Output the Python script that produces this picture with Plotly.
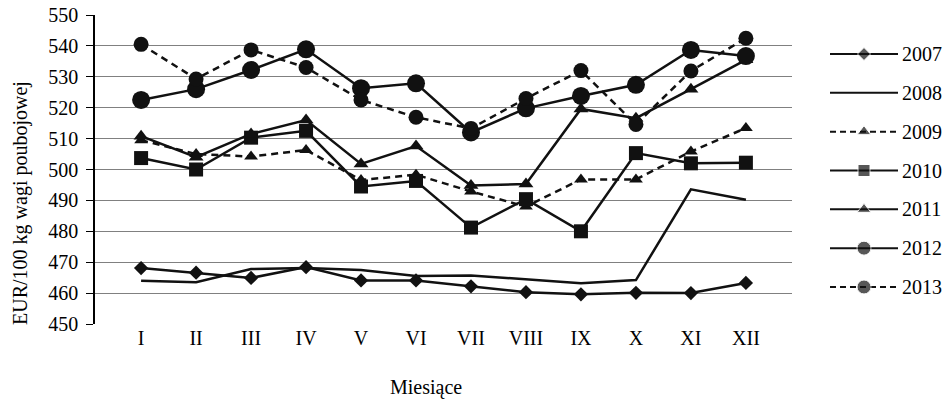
import plotly.graph_objects as go

months = ["I", "II", "III", "IV", "V", "VI", "VII", "VIII", "IX", "X", "XI", "XII"]

y2007 = [468.1, 466.6, 464.9, 468.4, 464.1, 464.1, 462.2, 460.3, 459.6, 460.1, 460.0, 463.3]
y2008 = [464.0, 463.5, 467.8, 468.1, 467.5, 465.5, 465.7, 464.4, 463.2, 464.2, 493.6, 490.2]
y2009 = [509.5, 505.0, 504.2, 506.3, 496.6, 498.3, 492.9, 488.0, 496.8, 496.8, 505.8, 513.4]
y2010 = [503.7, 500.0, 510.3, 512.5, 494.5, 496.3, 481.2, 490.4, 480.0, 505.3, 502.0, 502.2]
y2011 = [510.8, 504.0, 511.5, 516.0, 501.8, 507.6, 494.8, 495.3, 519.6, 516.6, 526.0, 535.5]
y2012 = [522.5, 526.0, 532.2, 538.9, 526.3, 527.9, 512.0, 519.8, 523.8, 527.4, 538.7, 536.7]
y2013 = [540.5, 529.3, 538.7, 533.0, 522.5, 516.9, 513.3, 523.0, 532.0, 514.6, 531.9, 542.5]

ink = "#111111"
font_family = "Liberation Serif, Times New Roman, serif"

# name, values, marker symbol, marker size (chart, legend), dash
series = [
    ("2007", y2007, "diamond", 11, 10, "solid"),
    ("2008", y2008, None, 0, 0, "solid"),
    ("2009", y2009, "triangle-up", 12, 12, "7px,5px"),
    ("2010", y2010, "square", 14, 12, "solid"),
    ("2011", y2011, "triangle-up", 13, 12, "solid"),
    ("2012", y2012, "circle", 18, 14, "solid"),
    ("2013", y2013, "circle", 15, 14, "7px,5px"),
]
names = [s[0] for s in series]

fig = go.Figure()
for name, vals, sym, size, lsize, dash in series:
    mode = "lines+markers" if sym else "lines"
    fig.add_trace(go.Scatter(
        x=months, y=vals, name=name, mode=mode, showlegend=False,
        line=dict(color=ink, width=2.5, dash=dash),
        marker=dict(symbol=sym or "circle", size=size, color=ink),
    ))

# legend drawn as a small side panel (long key lines like the original)
for name, vals, sym, size, lsize, dash in series:
    mode = "lines+markers" if sym else "lines"
    fig.add_trace(go.Scatter(
        x=[0, 0.5, 1], y=[name] * 3, mode=mode, showlegend=False,
        xaxis="x2", yaxis="y2", hoverinfo="skip",
        line=dict(color=ink, width=2, dash="6px,4px" if dash != "solid" else "solid"),
        marker=dict(symbol=sym or "circle", size=[0, lsize, 0], color=ink),
    ))

# browser body adds 8px offset; figure kept inside the 952x400 window
fig.update_layout(
    width=944, height=392,
    margin=dict(l=87, r=54, t=7, b=76, autoexpand=False),
    plot_bgcolor="white", paper_bgcolor="white",
    font=dict(family=font_family, size=20, color="black"),
    showlegend=False,
    xaxis=dict(domain=[0, 697 / 803]),
    xaxis2=dict(domain=[735 / 803, 1], range=[0, 1], visible=False, anchor="y2"),
    yaxis2=dict(domain=[17.6 / 309, 289.4 / 309], anchor="x2", side="right",
                type="category", categoryarray=names, range=[6.5, -0.5],
                showgrid=False, zeroline=False, showline=False, ticks="",
                ticklabelstandoff=3, tickfont=dict(size=20)),
)

fig.update_xaxes(
    selector=dict(anchor="y"),
    type="category", tickson="boundaries", ticks="outside", ticklen=6,
    tickcolor="black", showline=True, linecolor="black", linewidth=1.5,
    showgrid=False, ticklabelstandoff=11,
)
fig.update_layout(yaxis=dict(
    range=[450, 550], dtick=10, ticks="outside", ticklen=7, tickcolor="black",
    showline=True, linecolor="black", linewidth=1.5, ticklabeloverflow="allow",
    gridcolor="#808080", gridwidth=1, zeroline=False, ticklabelstandoff=4,
))

fig.add_annotation(text="Miesiące", xref="paper", yref="paper",
                   x=(426 - 95) / 803, y=-(387 - 324) / 309,
                   xanchor="center", yanchor="middle",
                   showarrow=False, font=dict(size=20))
fig.add_annotation(text="EUR/100 kg wagi poubojowej", xref="paper", yref="paper",
                   x=(20 - 95) / 803, y=(324 - 203) / 309, textangle=-90,
                   xanchor="center", yanchor="middle",
                   showarrow=False, font=dict(size=20))

fig.write_html("out.html")
